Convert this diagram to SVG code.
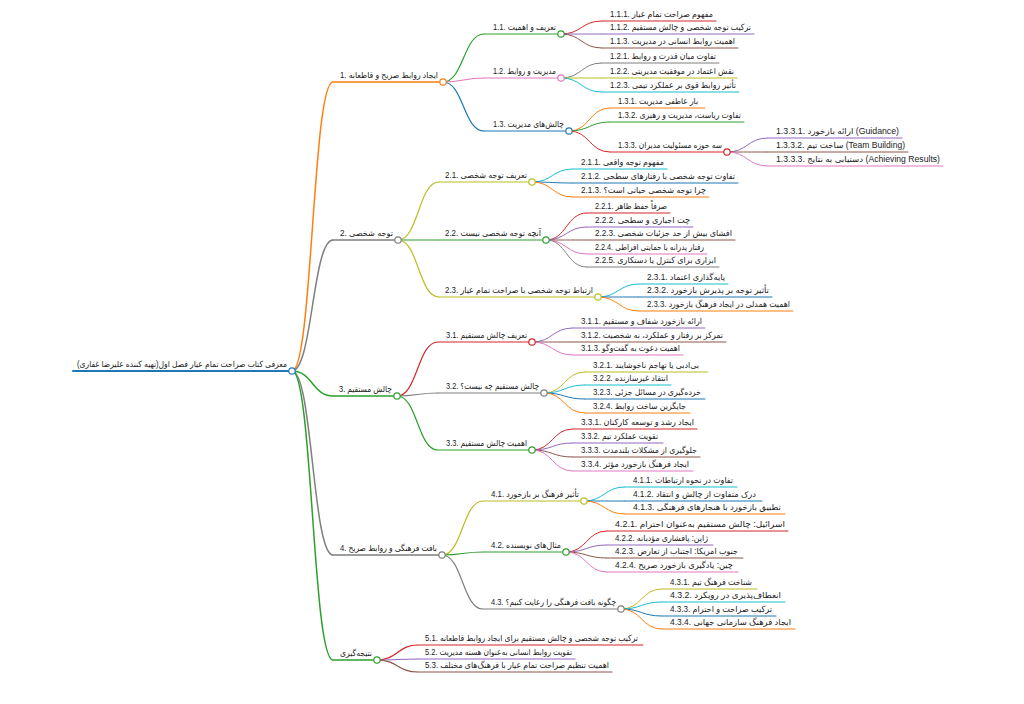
<svg xmlns="http://www.w3.org/2000/svg" width="1024" height="704" viewBox="0 0 1024 704">
<style>
text{font-family:'Liberation Sans','DejaVu Sans',sans-serif;font-size:8.5px;fill:#222}
path{fill:none}
line{stroke-linecap:round}
circle{fill:#fff;stroke-width:1.2}
.d0{stroke-width:2}.d1{stroke-width:1.5}.d2{stroke-width:1.2}.d3{stroke-width:1}
.c0{stroke:#1f77b4}.c1{stroke:#ff7f0e}.c2{stroke:#2ca02c}.c3{stroke:#d62728}.c4{stroke:#9467bd}
.c5{stroke:#8c564b}.c6{stroke:#e377c2}.c7{stroke:#7f7f7f}.c8{stroke:#bcbd22}.c9{stroke:#17becf}
</style>
<rect width="1024" height="704" fill="#fff"/>
<g id="connectors">
<path class="d1 c1" d="M292,371 C312.5,371 312.5,82 333,82"/>
<path class="d1 c7" d="M292,371 C312.5,371 312.5,240 333,240"/>
<path class="d1 c2" d="M292,371 C312.5,371 312.5,396 333,396"/>
<path class="d1 c7" d="M292,371 C312.5,371 312.5,555 333,555"/>
<path class="d1 c2" d="M292,371 C312.5,371 312.5,660 333,660"/>
<path class="d2 c2" d="M443,82 C463.5,82 463.5,34 484,34"/>
<path class="d2 c6" d="M443,82 C463.5,82 463.5,78 484,78"/>
<path class="d2 c0" d="M443,82 C463.5,82 463.5,131 484,131"/>
<path class="d3 c3" d="M561,34 C581.5,34 581.5,21 602,21"/>
<path class="d3 c4" d="M561,34 C581.5,34 581.5,34 602,34"/>
<path class="d3 c5" d="M561,34 C581.5,34 581.5,48 602,48"/>
<path class="d3 c7" d="M561,78 C581.5,78 581.5,63 602,63"/>
<path class="d3 c8" d="M561,78 C581.5,78 581.5,78 602,78"/>
<path class="d3 c9" d="M561,78 C581.5,78 581.5,92 602,92"/>
<path class="d3 c1" d="M569,131 C589.5,131 589.5,108 610,108"/>
<path class="d3 c2" d="M569,131 C589.5,131 589.5,122 610,122"/>
<path class="d3 c3" d="M569,131 C589.5,131 589.5,152 610,152"/>
<path class="d3 c4" d="M727,152 C747.5,152 747.5,138 768,138"/>
<path class="d3 c5" d="M727,152 C747.5,152 747.5,152 768,152"/>
<path class="d3 c6" d="M727,152 C747.5,152 747.5,166 768,166"/>
<path class="d2 c8" d="M398,240 C418.5,240 418.5,182 439,182"/>
<path class="d2 c2" d="M398,240 C418.5,240 418.5,240 439,240"/>
<path class="d2 c8" d="M398,240 C418.5,240 418.5,297 439,297"/>
<path class="d3 c9" d="M532,182 C552.5,182 552.5,169 573,169"/>
<path class="d3 c0" d="M532,182 C552.5,182 552.5,183 573,183"/>
<path class="d3 c1" d="M532,182 C552.5,182 552.5,197 573,197"/>
<path class="d3 c3" d="M546,240 C566.5,240 566.5,213 587,213"/>
<path class="d3 c4" d="M546,240 C566.5,240 566.5,227 587,227"/>
<path class="d3 c5" d="M546,240 C566.5,240 566.5,240 587,240"/>
<path class="d3 c6" d="M546,240 C566.5,240 566.5,254 587,254"/>
<path class="d3 c7" d="M546,240 C566.5,240 566.5,267 587,267"/>
<path class="d3 c9" d="M598,297 C618.5,297 618.5,284 639,284"/>
<path class="d3 c0" d="M598,297 C618.5,297 618.5,297 639,297"/>
<path class="d3 c1" d="M598,297 C618.5,297 618.5,311 639,311"/>
<path class="d2 c3" d="M397,396 C417.5,396 417.5,342 438,342"/>
<path class="d2 c7" d="M397,396 C417.5,396 417.5,393 438,393"/>
<path class="d2 c2" d="M397,396 C417.5,396 417.5,450 438,450"/>
<path class="d3 c4" d="M532,342 C552.5,342 552.5,328 573,328"/>
<path class="d3 c5" d="M532,342 C552.5,342 552.5,342 573,342"/>
<path class="d3 c6" d="M532,342 C552.5,342 552.5,355 573,355"/>
<path class="d3 c8" d="M544,393 C564.5,393 564.5,372 585,372"/>
<path class="d3 c9" d="M544,393 C564.5,393 564.5,385 585,385"/>
<path class="d3 c0" d="M544,393 C564.5,393 564.5,399 585,399"/>
<path class="d3 c1" d="M544,393 C564.5,393 564.5,413 585,413"/>
<path class="d3 c3" d="M532,450 C552.5,450 552.5,429 573,429"/>
<path class="d3 c4" d="M532,450 C552.5,450 552.5,443 573,443"/>
<path class="d3 c5" d="M532,450 C552.5,450 552.5,457 573,457"/>
<path class="d3 c6" d="M532,450 C552.5,450 552.5,471 573,471"/>
<path class="d2 c8" d="M442,555 C462.5,555 462.5,501 483,501"/>
<path class="d2 c2" d="M442,555 C462.5,555 462.5,552 483,552"/>
<path class="d2 c7" d="M442,555 C462.5,555 462.5,609 483,609"/>
<path class="d3 c9" d="M584,501 C604.5,501 604.5,487 625,487"/>
<path class="d3 c0" d="M584,501 C604.5,501 604.5,501 625,501"/>
<path class="d3 c1" d="M584,501 C604.5,501 604.5,514 625,514"/>
<path class="d3 c3" d="M566,552 C586.5,552 586.5,531 607,531"/>
<path class="d3 c4" d="M566,552 C586.5,552 586.5,545 607,545"/>
<path class="d3 c5" d="M566,552 C586.5,552 586.5,558 607,558"/>
<path class="d3 c6" d="M566,552 C586.5,552 586.5,572 607,572"/>
<path class="d3 c8" d="M621,609 C641.5,609 641.5,589 662,589"/>
<path class="d3 c9" d="M621,609 C641.5,609 641.5,602 662,602"/>
<path class="d3 c0" d="M621,609 C641.5,609 641.5,616 662,616"/>
<path class="d3 c1" d="M621,609 C641.5,609 641.5,629 662,629"/>
<path class="d2 c3" d="M377,660 C397.5,660 397.5,645 418,645"/>
<path class="d2 c4" d="M377,660 C397.5,660 397.5,659 418,659"/>
<path class="d2 c5" d="M377,660 C397.5,660 397.5,672 418,672"/>
</g>
<g id="node-root"><line class="d0 c0" x1="73" y1="371" x2="292" y2="371"/><text x="77" y="367" textLength="210" lengthAdjust="spacingAndGlyphs">معرفی کتاب صراحت تمام عیار فصل اول(تهیه کننده علیرضا غفاری)&#x200F;</text><circle class="c0" cx="292" cy="371" r="3.2"/></g>
<g id="node-1"><line class="d1 c1" x1="333" y1="82" x2="443" y2="82"/><text x="340" y="78" textLength="98" lengthAdjust="spacingAndGlyphs">1. ایجاد روابط صریح و قاطعانه</text><circle class="c1" cx="443" cy="82" r="3.2"/></g>
<g id="node-1-1"><line class="d2 c2" x1="484" y1="34" x2="561" y2="34"/><text x="493" y="30" textLength="63" lengthAdjust="spacingAndGlyphs">1.1. تعریف و اهمیت</text><circle class="c2" cx="561" cy="34" r="3.2"/></g>
<g id="node-1-1-1"><line class="d3 c3" x1="602" y1="21" x2="716" y2="21"/><text x="610" y="17" textLength="103" lengthAdjust="spacingAndGlyphs">1.1.1. مفهوم صراحت تمام عیار</text></g>
<g id="node-1-1-2"><line class="d3 c4" x1="602" y1="34" x2="754" y2="34"/><text x="610" y="30" textLength="141" lengthAdjust="spacingAndGlyphs">1.1.2. ترکیب توجه شخصی و چالش مستقیم</text></g>
<g id="node-1-1-3"><line class="d3 c5" x1="602" y1="48" x2="738" y2="48"/><text x="610" y="44" textLength="125" lengthAdjust="spacingAndGlyphs">1.1.3. اهمیت روابط انسانی در مدیریت</text></g>
<g id="node-1-2"><line class="d2 c6" x1="484" y1="78" x2="561" y2="78"/><text x="493" y="74" textLength="63" lengthAdjust="spacingAndGlyphs">1.2. مدیریت و روابط</text><circle class="c6" cx="561" cy="78" r="3.2"/></g>
<g id="node-1-2-1"><line class="d3 c7" x1="602" y1="63" x2="719" y2="63"/><text x="610" y="59" textLength="106" lengthAdjust="spacingAndGlyphs">1.2.1. تفاوت میان قدرت و روابط</text></g>
<g id="node-1-2-2"><line class="d3 c8" x1="602" y1="78" x2="737" y2="78"/><text x="610" y="74" textLength="124" lengthAdjust="spacingAndGlyphs">1.2.2. نقش اعتماد در موفقیت مدیریتی</text></g>
<g id="node-1-2-3"><line class="d3 c9" x1="602" y1="92" x2="739" y2="92"/><text x="610" y="88" textLength="126" lengthAdjust="spacingAndGlyphs">1.2.3. تأثیر روابط قوی بر عملکرد تیمی</text></g>
<g id="node-1-3"><line class="d2 c0" x1="484" y1="131" x2="569" y2="131"/><text x="493" y="127" textLength="71" lengthAdjust="spacingAndGlyphs">1.3. چالش‌های مدیریت</text><circle class="c0" cx="569" cy="131" r="3.2"/></g>
<g id="node-1-3-1"><line class="d3 c1" x1="610" y1="108" x2="705" y2="108"/><text x="618" y="104" textLength="80" lengthAdjust="spacingAndGlyphs">1.3.1. بار عاطفی مدیریت</text></g>
<g id="node-1-3-2"><line class="d3 c2" x1="610" y1="122" x2="744" y2="122"/><text x="618" y="118" textLength="123" lengthAdjust="spacingAndGlyphs">1.3.2. تفاوت ریاست، مدیریت و رهبری</text></g>
<g id="node-1-3-3"><line class="d3 c3" x1="610" y1="152" x2="727" y2="152"/><text x="618" y="148" textLength="104" lengthAdjust="spacingAndGlyphs">1.3.3. سه حوزه مسئولیت مدیران</text><circle class="c3" cx="727" cy="152" r="3.2"/></g>
<g id="node-1-3-3-1"><line class="d3 c4" x1="768" y1="138" x2="902" y2="138"/><text x="776" y="134" textLength="123" lengthAdjust="spacingAndGlyphs">1.3.3.1. ارائه بازخورد (Guidance)</text></g>
<g id="node-1-3-3-2"><line class="d3 c5" x1="768" y1="152" x2="908" y2="152"/><text x="776" y="148" textLength="129" lengthAdjust="spacingAndGlyphs">1.3.3.2. ساخت تیم (Team Building)</text></g>
<g id="node-1-3-3-3"><line class="d3 c6" x1="768" y1="166" x2="943" y2="166"/><text x="776" y="162" textLength="164" lengthAdjust="spacingAndGlyphs">1.3.3.3. دستیابی به نتایج (Achieving Results)</text></g>
<g id="node-2"><line class="d1 c7" x1="333" y1="240" x2="398" y2="240"/><text x="340" y="236" textLength="53" lengthAdjust="spacingAndGlyphs">2. توجه شخصی</text><circle class="c7" cx="398" cy="240" r="3.2"/></g>
<g id="node-2-1"><line class="d2 c8" x1="439" y1="182" x2="532" y2="182"/><text x="445" y="178" textLength="82" lengthAdjust="spacingAndGlyphs">2.1. تعریف توجه شخصی</text><circle class="c8" cx="532" cy="182" r="3.2"/></g>
<g id="node-2-1-1"><line class="d3 c9" x1="573" y1="169" x2="667" y2="169"/><text x="581" y="165" textLength="83" lengthAdjust="spacingAndGlyphs">2.1.1. مفهوم توجه واقعی</text></g>
<g id="node-2-1-2"><line class="d3 c0" x1="573" y1="183" x2="738" y2="183"/><text x="581" y="179" textLength="154" lengthAdjust="spacingAndGlyphs">2.1.2. تفاوت توجه شخصی با رفتارهای سطحی</text></g>
<g id="node-2-1-3"><line class="d3 c1" x1="573" y1="197" x2="709" y2="197"/><text x="581" y="193" textLength="125" lengthAdjust="spacingAndGlyphs">2.1.3. چرا توجه شخصی حیاتی است؟&#x200F;</text></g>
<g id="node-2-2"><line class="d2 c2" x1="439" y1="240" x2="546" y2="240"/><text x="445" y="236" textLength="96" lengthAdjust="spacingAndGlyphs">2.2. آنچه توجه شخصی نیست</text><circle class="c2" cx="546" cy="240" r="3.2"/></g>
<g id="node-2-2-1"><line class="d3 c3" x1="587" y1="213" x2="670" y2="213"/><text x="595" y="209" textLength="72" lengthAdjust="spacingAndGlyphs">2.2.1. صرفاً حفظ ظاهر</text></g>
<g id="node-2-2-2"><line class="d3 c4" x1="587" y1="227" x2="693" y2="227"/><text x="595" y="223" textLength="95" lengthAdjust="spacingAndGlyphs">2.2.2. چت اجباری و سطحی</text></g>
<g id="node-2-2-3"><line class="d3 c5" x1="587" y1="240" x2="735" y2="240"/><text x="595" y="236" textLength="137" lengthAdjust="spacingAndGlyphs">2.2.3. افشای بیش از حد جزئیات شخصی</text></g>
<g id="node-2-2-4"><line class="d3 c6" x1="587" y1="254" x2="707" y2="254"/><text x="595" y="250" textLength="109" lengthAdjust="spacingAndGlyphs">2.2.4. رفتار پدرانه یا حمایتی افراطی</text></g>
<g id="node-2-2-5"><line class="d3 c7" x1="587" y1="267" x2="719" y2="267"/><text x="595" y="263" textLength="121" lengthAdjust="spacingAndGlyphs">2.2.5. ابزاری برای کنترل یا دستکاری</text></g>
<g id="node-2-3"><line class="d2 c8" x1="439" y1="297" x2="598" y2="297"/><text x="445" y="293" textLength="148" lengthAdjust="spacingAndGlyphs">2.3. ارتباط توجه شخصی با صراحت تمام عیار</text><circle class="c8" cx="598" cy="297" r="3.2"/></g>
<g id="node-2-3-1"><line class="d3 c9" x1="639" y1="284" x2="728" y2="284"/><text x="647" y="280" textLength="78" lengthAdjust="spacingAndGlyphs">2.3.1. پایه‌گذاری اعتماد</text></g>
<g id="node-2-3-2"><line class="d3 c0" x1="639" y1="297" x2="772" y2="297"/><text x="647" y="293" textLength="122" lengthAdjust="spacingAndGlyphs">2.3.2. تأثیر توجه بر پذیرش بازخورد</text></g>
<g id="node-2-3-3"><line class="d3 c1" x1="639" y1="311" x2="793" y2="311"/><text x="647" y="307" textLength="143" lengthAdjust="spacingAndGlyphs">2.3.3. اهمیت همدلی در ایجاد فرهنگ بازخورد</text></g>
<g id="node-3"><line class="d1 c2" x1="333" y1="396" x2="397" y2="396"/><text x="339" y="392" textLength="53" lengthAdjust="spacingAndGlyphs">3. چالش مستقیم</text><circle class="c2" cx="397" cy="396" r="3.2"/></g>
<g id="node-3-1"><line class="d2 c3" x1="438" y1="342" x2="532" y2="342"/><text x="446" y="338" textLength="81" lengthAdjust="spacingAndGlyphs">3.1. تعریف چالش مستقیم</text><circle class="c3" cx="532" cy="342" r="3.2"/></g>
<g id="node-3-1-1"><line class="d3 c4" x1="573" y1="328" x2="705" y2="328"/><text x="581" y="324" textLength="121" lengthAdjust="spacingAndGlyphs">3.1.1. ارائه بازخورد شفاف و مستقیم</text></g>
<g id="node-3-1-2"><line class="d3 c5" x1="573" y1="342" x2="726" y2="342"/><text x="581" y="338" textLength="142" lengthAdjust="spacingAndGlyphs">3.1.2. تمرکز بر رفتار و عملکرد، نه شخصیت</text></g>
<g id="node-3-1-3"><line class="d3 c6" x1="573" y1="355" x2="683" y2="355"/><text x="581" y="351" textLength="99" lengthAdjust="spacingAndGlyphs">3.1.3. اهمیت دعوت به گفت‌وگو</text></g>
<g id="node-3-2"><line class="d2 c7" x1="438" y1="393" x2="544" y2="393"/><text x="446" y="389" textLength="93" lengthAdjust="spacingAndGlyphs">3.2. چالش مستقیم چه نیست؟&#x200F;</text><circle class="c7" cx="544" cy="393" r="3.2"/></g>
<g id="node-3-2-1"><line class="d3 c8" x1="585" y1="372" x2="708" y2="372"/><text x="593" y="368" textLength="106" lengthAdjust="spacingAndGlyphs">3.2.1. بی‌ادبی یا تهاجم ناخوشایند</text></g>
<g id="node-3-2-2"><line class="d3 c9" x1="585" y1="385" x2="671" y2="385"/><text x="593" y="381" textLength="75" lengthAdjust="spacingAndGlyphs">3.2.2. انتقاد غیرسازنده</text></g>
<g id="node-3-2-3"><line class="d3 c0" x1="585" y1="399" x2="705" y2="399"/><text x="593" y="395" textLength="108" lengthAdjust="spacingAndGlyphs">3.2.3. خرده‌گیری در مسائل جزئی</text></g>
<g id="node-3-2-4"><line class="d3 c1" x1="585" y1="413" x2="690" y2="413"/><text x="593" y="409" textLength="93" lengthAdjust="spacingAndGlyphs">3.2.4. جایگزین ساخت روابط</text></g>
<g id="node-3-3"><line class="d2 c2" x1="438" y1="450" x2="532" y2="450"/><text x="446" y="446" textLength="81" lengthAdjust="spacingAndGlyphs">3.3. اهمیت چالش مستقیم</text><circle class="c2" cx="532" cy="450" r="3.2"/></g>
<g id="node-3-3-1"><line class="d3 c3" x1="573" y1="429" x2="697" y2="429"/><text x="581" y="425" textLength="113" lengthAdjust="spacingAndGlyphs">3.3.1. ایجاد رشد و توسعه کارکنان</text></g>
<g id="node-3-3-2"><line class="d3 c4" x1="573" y1="443" x2="663" y2="443"/><text x="581" y="439" textLength="77" lengthAdjust="spacingAndGlyphs">3.3.2. تقویت عملکرد تیم</text></g>
<g id="node-3-3-3"><line class="d3 c5" x1="573" y1="457" x2="700" y2="457"/><text x="581" y="453" textLength="116" lengthAdjust="spacingAndGlyphs">3.3.3. جلوگیری از مشکلات بلندمدت</text></g>
<g id="node-3-3-4"><line class="d3 c6" x1="573" y1="471" x2="693" y2="471"/><text x="581" y="467" textLength="108" lengthAdjust="spacingAndGlyphs">3.3.4. ایجاد فرهنگ بازخورد مؤثر</text></g>
<g id="node-4"><line class="d1 c7" x1="333" y1="555" x2="442" y2="555"/><text x="340" y="551" textLength="97" lengthAdjust="spacingAndGlyphs">4. بافت فرهنگی و روابط صریح</text><circle class="c7" cx="442" cy="555" r="3.2"/></g>
<g id="node-4-1"><line class="d2 c8" x1="483" y1="501" x2="584" y2="501"/><text x="491" y="497" textLength="88" lengthAdjust="spacingAndGlyphs">4.1. تأثیر فرهنگ بر بازخورد</text><circle class="c8" cx="584" cy="501" r="3.2"/></g>
<g id="node-4-1-1"><line class="d3 c9" x1="625" y1="487" x2="737" y2="487"/><text x="633" y="483" textLength="100" lengthAdjust="spacingAndGlyphs">4.1.1. تفاوت در نحوه ارتباطات</text></g>
<g id="node-4-1-2"><line class="d3 c0" x1="625" y1="501" x2="762" y2="501"/><text x="633" y="497" textLength="123" lengthAdjust="spacingAndGlyphs">4.1.2. درک متفاوت از چالش و انتقاد</text></g>
<g id="node-4-1-3"><line class="d3 c1" x1="625" y1="514" x2="785" y2="514"/><text x="633" y="510" textLength="148" lengthAdjust="spacingAndGlyphs">4.1.3. تطبیق بازخورد با هنجارهای فرهنگی</text></g>
<g id="node-4-2"><line class="d2 c2" x1="483" y1="552" x2="566" y2="552"/><text x="491" y="548" textLength="70" lengthAdjust="spacingAndGlyphs">4.2. مثال‌های نویسنده</text><circle class="c2" cx="566" cy="552" r="3.2"/></g>
<g id="node-4-2-1"><line class="d3 c3" x1="607" y1="531" x2="788" y2="531"/><text x="615" y="527" textLength="170" lengthAdjust="spacingAndGlyphs">4.2.1. اسرائیل: چالش مستقیم به‌عنوان احترام</text></g>
<g id="node-4-2-2"><line class="d3 c4" x1="607" y1="545" x2="713" y2="545"/><text x="615" y="541" textLength="93" lengthAdjust="spacingAndGlyphs">4.2.2. ژاپن: پافشاری مؤدبانه</text></g>
<g id="node-4-2-3"><line class="d3 c5" x1="607" y1="558" x2="743" y2="558"/><text x="615" y="554" textLength="123" lengthAdjust="spacingAndGlyphs">4.2.3. جنوب امریکا: اجتناب از تعارض</text></g>
<g id="node-4-2-4"><line class="d3 c6" x1="607" y1="572" x2="738" y2="572"/><text x="615" y="568" textLength="118" lengthAdjust="spacingAndGlyphs">4.2.4. چین: یادگیری بازخورد صریح</text></g>
<g id="node-4-3"><line class="d2 c7" x1="483" y1="609" x2="621" y2="609"/><text x="491" y="605" textLength="125" lengthAdjust="spacingAndGlyphs">4.3. چگونه بافت فرهنگی را رعایت کنیم؟&#x200F;</text><circle class="c7" cx="621" cy="609" r="3.2"/></g>
<g id="node-4-3-1"><line class="d3 c8" x1="662" y1="589" x2="757" y2="589"/><text x="670" y="585" textLength="82" lengthAdjust="spacingAndGlyphs">4.3.1. شناخت فرهنگ تیم</text></g>
<g id="node-4-3-2"><line class="d3 c9" x1="662" y1="602" x2="785" y2="602"/><text x="670" y="598" textLength="111" lengthAdjust="spacingAndGlyphs">4.3.2. انعطاف‌پذیری در رویکرد</text></g>
<g id="node-4-3-3"><line class="d3 c0" x1="662" y1="616" x2="776" y2="616"/><text x="670" y="612" textLength="102" lengthAdjust="spacingAndGlyphs">4.3.3. ترکیب صراحت و احترام</text></g>
<g id="node-4-3-4"><line class="d3 c1" x1="662" y1="629" x2="795" y2="629"/><text x="670" y="625" textLength="121" lengthAdjust="spacingAndGlyphs">4.3.4. ایجاد فرهنگ سازمانی جهانی</text></g>
<g id="node-5"><line class="d1 c2" x1="333" y1="660" x2="377" y2="660"/><text x="340" y="656" textLength="32" lengthAdjust="spacingAndGlyphs">نتیجه‌گیری</text><circle class="c2" cx="377" cy="660" r="3.2"/></g>
<g id="node-5-1"><line class="d2 c3" x1="418" y1="645" x2="643" y2="645"/><text x="425" y="641" textLength="213" lengthAdjust="spacingAndGlyphs">5.1. ترکیب توجه شخصی و چالش مستقیم برای ایجاد روابط قاطعانه</text></g>
<g id="node-5-2"><line class="d2 c4" x1="418" y1="659" x2="575" y2="659"/><text x="425" y="655" textLength="147" lengthAdjust="spacingAndGlyphs">5.2. تقویت روابط انسانی به‌عنوان هسته مدیریت</text></g>
<g id="node-5-3"><line class="d2 c5" x1="418" y1="672" x2="612" y2="672"/><text x="425" y="668" textLength="184" lengthAdjust="spacingAndGlyphs">5.3. اهمیت تنظیم صراحت تمام عیار با فرهنگ‌های مختلف</text></g>
</svg>
